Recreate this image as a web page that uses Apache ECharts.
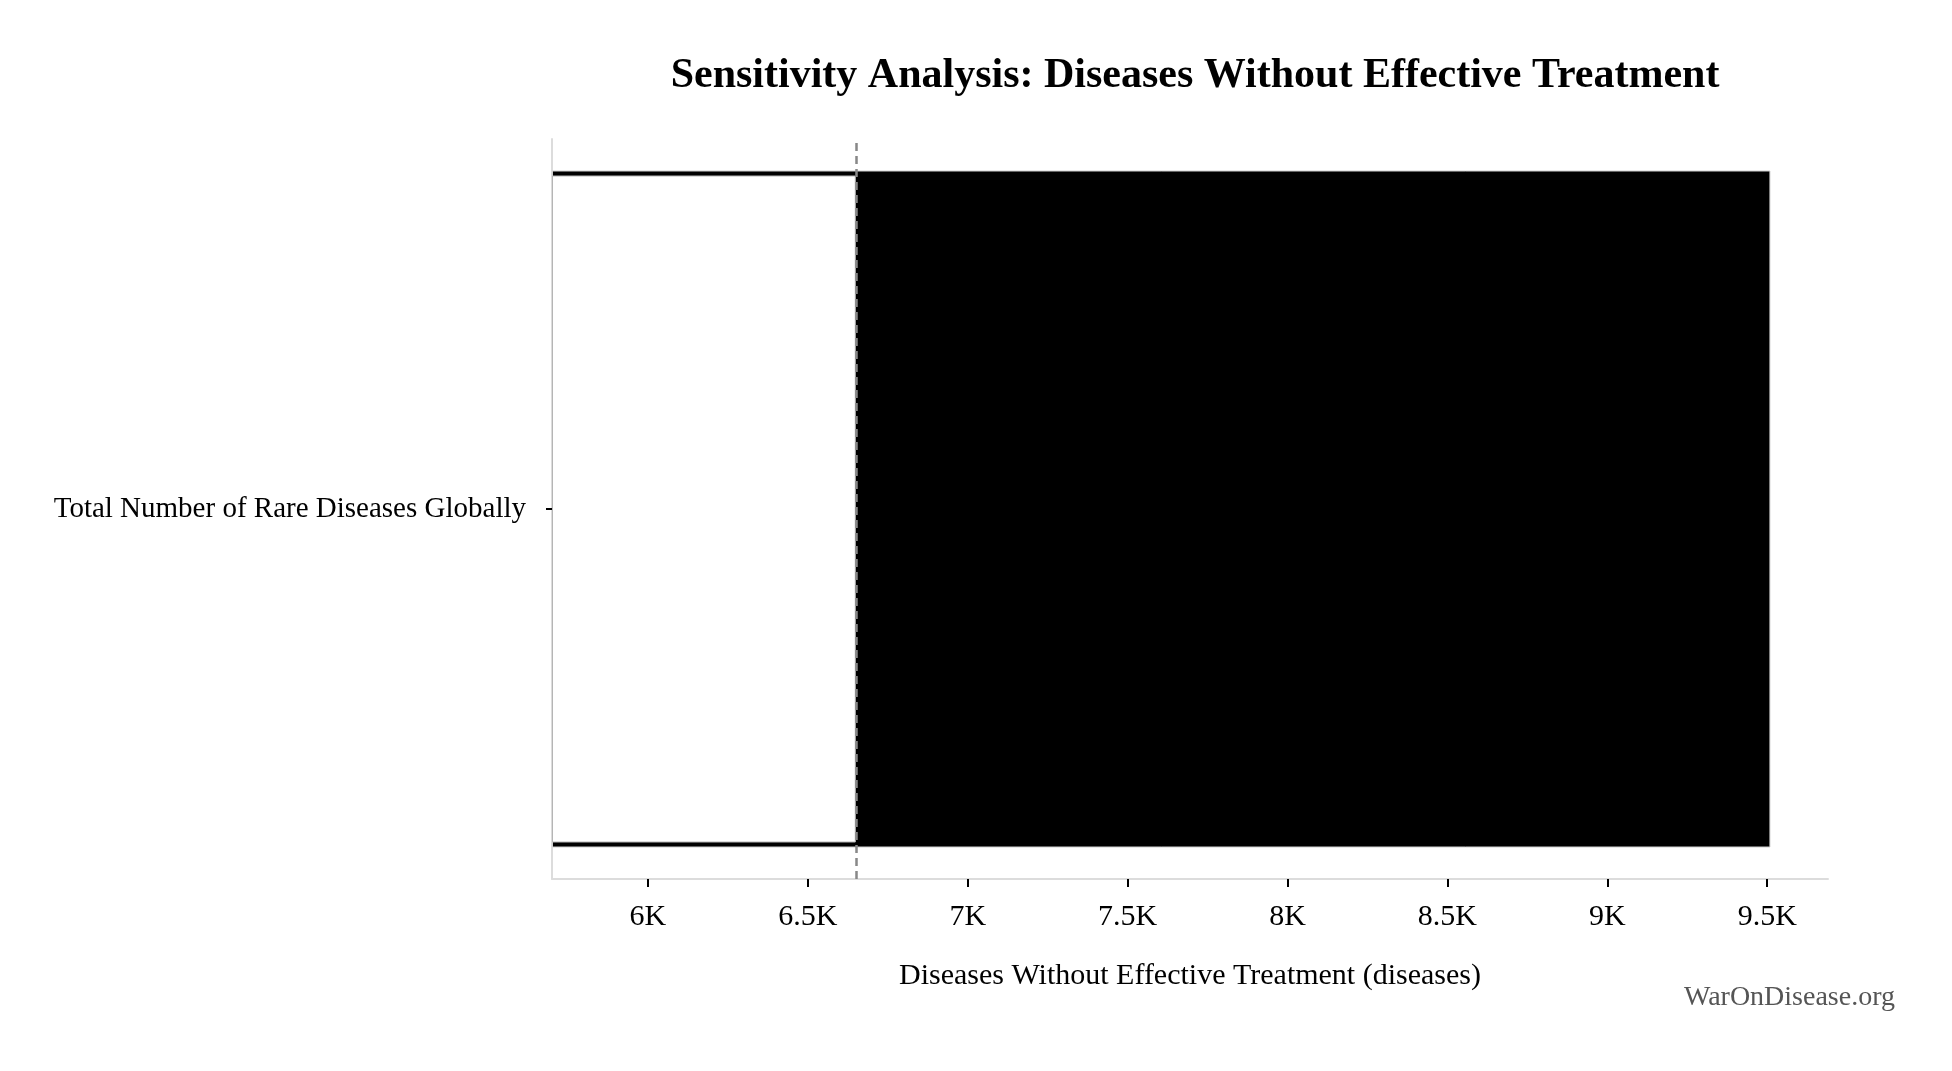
<!DOCTYPE html>
<html>
<head>
<meta charset="utf-8">
<script src="https://cdn.jsdelivr.net/npm/echarts@6/dist/echarts.min.js"></script>
<style>
  html, body { margin: 0; padding: 0; background: #fff; }
  #chart { width: 1952px; height: 1071px; }
</style>
</head>
<body>
<div id="chart"></div>
<script>
var categories = ['Total Number of Rare Diseases Globally'];
var lowValues = [5700];
var highValues = [9510];
var baseValue = 6650;
var tickValues = [6000, 6500, 7000, 7500, 8000, 8500, 9000, 9500];
var axisMin = 5700;
var axisMax = 9690;

var FONT = 'Liberation Serif';

function fmtK(v) {
    return (v / 1000) + 'K';
}

var myChart = echarts.init(document.getElementById('chart'));
myChart.setOption({
    backgroundColor: '#fff',
    animation: false,
    title: {
        text: 'Sensitivity Analysis: Diseases Without Effective Treatment',
        left: 1190,
        top: 50,
        textAlign: 'center',
        textStyle: {
            fontFamily: FONT,
            fontSize: 42,
            fontWeight: 'bold',
            color: '#000'
        }
    },
    grid: {
        left: 552,
        right: 124,
        top: 139,
        bottom: 192,
        containLabel: false
    },
    xAxis: {
        type: 'value',
        min: axisMin,
        max: axisMax,
        name: 'Diseases Without Effective Treatment (diseases)',
        nameLocation: 'middle',
        nameGap: 82,
        nameTextStyle: {fontFamily: FONT, fontSize: 30, color: '#000'},
        splitLine: {show: false},
        axisLine: {show: true, lineStyle: {color: '#dcdcdc', width: 2}},
        axisTick: {
            show: true,
            length: 8,
            customValues: tickValues,
            lineStyle: {color: '#000', width: 2}
        },
        axisLabel: {
            customValues: tickValues,
            formatter: fmtK,
            margin: 23,
            fontFamily: FONT,
            fontSize: 30,
            color: '#000'
        }
    },
    yAxis: [{
        type: 'category',
        data: categories,
        axisLine: {show: true, lineStyle: {color: '#dcdcdc', width: 2}},
        axisTick: {show: true, alignWithLabel: true, length: 6, lineStyle: {color: '#000', width: 2}},
        axisLabel: {
            margin: 26,
            fontFamily: FONT,
            fontSize: 29,
            color: '#000'
        }
    }, {
        type: 'category',
        data: categories,
        show: false
    }],
    series: [{
        type: 'bar',
        stack: 'high',
        yAxisIndex: 0,
        barWidth: 677,
        silent: true,
        itemStyle: {color: 'transparent'},
        data: lowValues
    }, {
        type: 'bar',
        stack: 'high',
        yAxisIndex: 0,
        barWidth: 677,
        itemStyle: {color: '#000', borderColor: '#cfcfcf', borderWidth: 1},
        data: highValues.map(function (v, i) { return v - lowValues[i]; })
    }, {
        type: 'bar',
        stack: 'low',
        yAxisIndex: 1,
        barWidth: 667,
        silent: true,
        itemStyle: {color: 'transparent'},
        data: lowValues
    }, {
        type: 'bar',
        stack: 'low',
        yAxisIndex: 1,
        barWidth: 667,
        itemStyle: {color: '#fff', borderColor: '#b5b5b5', borderWidth: 1},
        data: lowValues.map(function (v) { return baseValue - v; }),
        markLine: {
            silent: true,
            symbol: 'none',
            label: {show: false},
            lineStyle: {color: '#888', type: [8, 5], width: 2.5},
            data: [{xAxis: baseValue}]
        }
    }],
    graphic: [{
        type: 'text',
        right: 57,
        top: 984,
        style: {
            text: 'WarOnDisease.org',
            fontFamily: FONT,
            fontSize: 28,
            fill: '#555'
        }
    }]
});
</script>
</body>
</html>
